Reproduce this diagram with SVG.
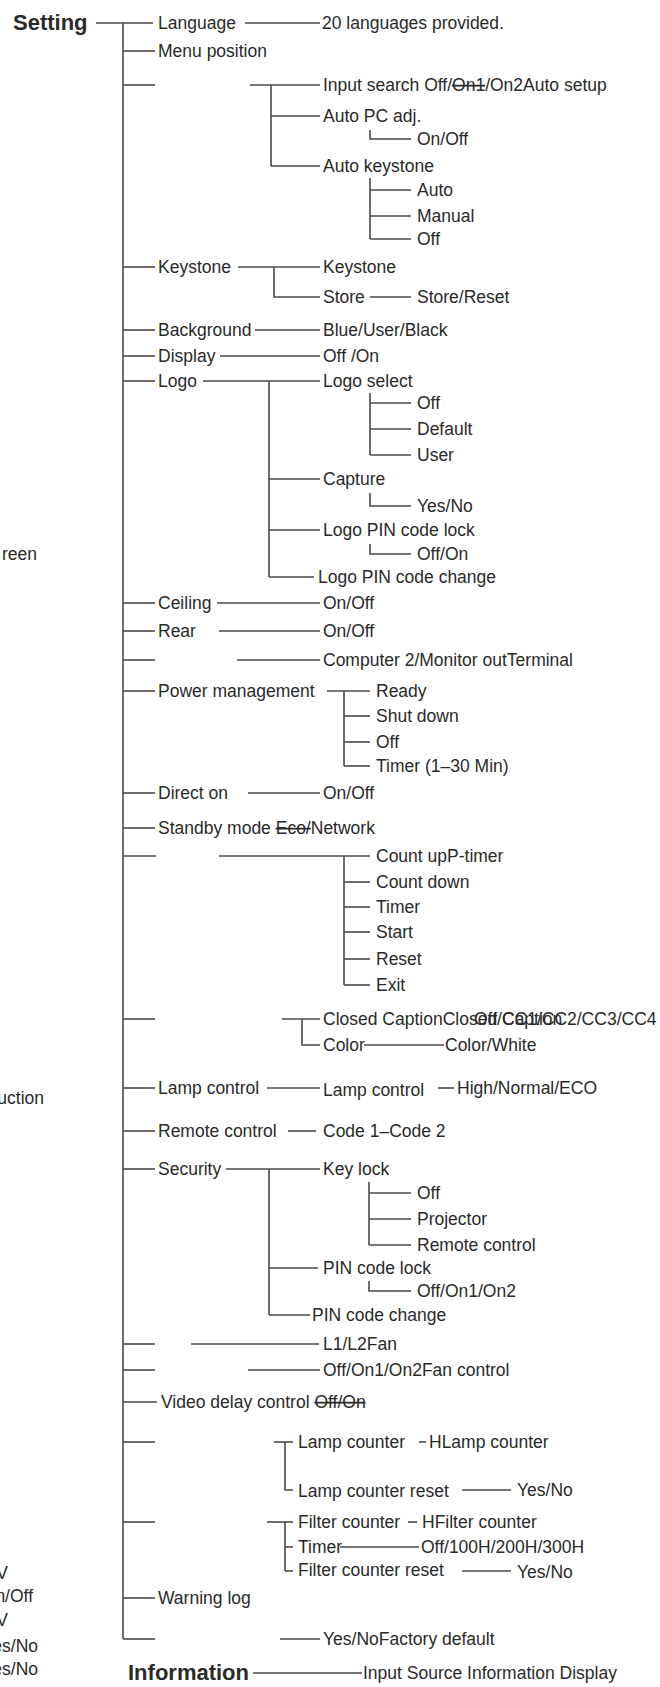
<svg xmlns="http://www.w3.org/2000/svg" width="660" height="1687" viewBox="0 0 660 1687">
<style>
text{font-family:"Liberation Sans",Arial,sans-serif;font-size:17.5px;fill:#2a2a2a}
.b{font-weight:bold;font-size:22px}
.e{text-anchor:end}
.s{text-decoration:line-through}
#connectors line,#connectors polyline{stroke:#4a4a4a;stroke-width:1.6;fill:none}
</style>
<rect width="660" height="1687" fill="#ffffff"/>
<g id="connectors">
<line x1="123" y1="23" x2="123" y2="1639"/>
<line x1="96" y1="23" x2="153" y2="23"/>
<line x1="123" y1="51" x2="155" y2="51"/>
<line x1="123" y1="85" x2="155" y2="85"/>
<line x1="123" y1="267" x2="155" y2="267"/>
<line x1="123" y1="330" x2="155" y2="330"/>
<line x1="123" y1="356" x2="155" y2="356"/>
<line x1="123" y1="381" x2="155" y2="381"/>
<line x1="123" y1="603" x2="155" y2="603"/>
<line x1="123" y1="631" x2="155" y2="631"/>
<line x1="123" y1="660" x2="155" y2="660"/>
<line x1="123" y1="691" x2="155" y2="691"/>
<line x1="123" y1="793" x2="155" y2="793"/>
<line x1="123" y1="828" x2="155" y2="828"/>
<line x1="123" y1="856" x2="156" y2="856"/>
<line x1="123" y1="1019" x2="155" y2="1019"/>
<line x1="123" y1="1088" x2="155" y2="1088"/>
<line x1="123" y1="1131" x2="155" y2="1131"/>
<line x1="123" y1="1169" x2="155" y2="1169"/>
<line x1="123" y1="1344" x2="155" y2="1344"/>
<line x1="123" y1="1370" x2="155" y2="1370"/>
<line x1="123" y1="1402" x2="157" y2="1402"/>
<line x1="123" y1="1442" x2="155" y2="1442"/>
<line x1="123" y1="1522" x2="155" y2="1522"/>
<line x1="123" y1="1598" x2="155" y2="1598"/>
<line x1="123" y1="1639" x2="155" y2="1639"/>
<line x1="245" y1="23" x2="320" y2="23"/>
<line x1="250" y1="85" x2="320" y2="85"/>
<line x1="271" y1="85" x2="271" y2="166"/>
<line x1="271" y1="116" x2="320" y2="116"/>
<line x1="271" y1="166" x2="320" y2="166"/>
<polyline points="370,130 370,139 411,139"/>
<line x1="370" y1="178" x2="370" y2="239"/>
<line x1="370" y1="190" x2="411" y2="190"/>
<line x1="370" y1="216" x2="411" y2="216"/>
<line x1="370" y1="239" x2="411" y2="239"/>
<line x1="238" y1="267" x2="320" y2="267"/>
<polyline points="274,267 274,297 320,297"/>
<line x1="370" y1="297" x2="411" y2="297"/>
<line x1="255" y1="330" x2="320" y2="330"/>
<line x1="220" y1="356" x2="320" y2="356"/>
<line x1="203" y1="381" x2="320" y2="381"/>
<line x1="269" y1="381" x2="269" y2="577"/>
<line x1="269" y1="479" x2="320" y2="479"/>
<line x1="269" y1="530" x2="320" y2="530"/>
<line x1="269" y1="577" x2="314" y2="577"/>
<line x1="370" y1="393" x2="370" y2="455"/>
<line x1="370" y1="403" x2="411" y2="403"/>
<line x1="370" y1="429" x2="411" y2="429"/>
<line x1="370" y1="455" x2="411" y2="455"/>
<polyline points="370,493 370,506 411,506"/>
<polyline points="370,544 370,554 411,554"/>
<line x1="217" y1="603" x2="320" y2="603"/>
<line x1="219" y1="631" x2="320" y2="631"/>
<line x1="237" y1="660" x2="320" y2="660"/>
<line x1="327" y1="691" x2="370" y2="691"/>
<line x1="344" y1="691" x2="344" y2="766"/>
<line x1="344" y1="716" x2="370" y2="716"/>
<line x1="344" y1="742" x2="370" y2="742"/>
<line x1="344" y1="766" x2="370" y2="766"/>
<line x1="248" y1="793" x2="320" y2="793"/>
<line x1="219" y1="856" x2="370" y2="856"/>
<line x1="344" y1="856" x2="344" y2="985"/>
<line x1="344" y1="882" x2="370" y2="882"/>
<line x1="344" y1="907" x2="370" y2="907"/>
<line x1="344" y1="932" x2="370" y2="932"/>
<line x1="344" y1="959" x2="370" y2="959"/>
<line x1="344" y1="985" x2="370" y2="985"/>
<line x1="282" y1="1019" x2="320" y2="1019"/>
<polyline points="302,1019 302,1045 320,1045"/>
<line x1="364" y1="1045" x2="444" y2="1045"/>
<line x1="267" y1="1088" x2="320" y2="1088"/>
<line x1="438" y1="1088" x2="454" y2="1088"/>
<line x1="288" y1="1131" x2="316" y2="1131"/>
<line x1="226" y1="1169" x2="320" y2="1169"/>
<line x1="269" y1="1169" x2="269" y2="1315"/>
<line x1="269" y1="1268" x2="318" y2="1268"/>
<line x1="269" y1="1315" x2="310" y2="1315"/>
<line x1="369" y1="1182" x2="369" y2="1245"/>
<line x1="369" y1="1193" x2="411" y2="1193"/>
<line x1="369" y1="1219" x2="411" y2="1219"/>
<line x1="369" y1="1245" x2="411" y2="1245"/>
<polyline points="369,1281 369,1291 411,1291"/>
<line x1="191" y1="1344" x2="319" y2="1344"/>
<line x1="248" y1="1370" x2="320" y2="1370"/>
<line x1="274" y1="1442" x2="293" y2="1442"/>
<polyline points="285,1442 285,1490 293,1490"/>
<line x1="419" y1="1442" x2="426" y2="1442"/>
<line x1="462" y1="1490" x2="511" y2="1490"/>
<line x1="267" y1="1522" x2="293" y2="1522"/>
<line x1="285" y1="1522" x2="285" y2="1571"/>
<line x1="285" y1="1547" x2="293" y2="1547"/>
<line x1="285" y1="1571" x2="293" y2="1571"/>
<line x1="408" y1="1522" x2="417" y2="1522"/>
<line x1="340" y1="1547" x2="419" y2="1547"/>
<line x1="462" y1="1571" x2="511" y2="1571"/>
<line x1="280" y1="1639" x2="320" y2="1639"/>
<line x1="253" y1="1673" x2="362" y2="1673"/>
</g>
<g id="setting"><text class="b" x="13" y="30">Setting</text></g>
<g id="language"><text x="158" y="29">Language</text></g>
<g id="language-val"><text x="322" y="29">20 languages provided.</text></g>
<g id="menu-position"><text x="158" y="57">Menu position</text></g>
<g id="input-search"><text x="323" y="91">Input search Off/<tspan class="s">On1</tspan>/On2Auto setup</text></g>
<g id="auto-pc"><text x="323" y="122">Auto PC adj.</text></g>
<g id="auto-pc-val"><text x="417" y="145">On/Off</text></g>
<g id="auto-keystone"><text x="323" y="172">Auto keystone</text></g>
<g id="ak-auto"><text x="417" y="196">Auto</text></g>
<g id="ak-manual"><text x="417" y="222">Manual</text></g>
<g id="ak-off"><text x="417" y="245">Off</text></g>
<g id="keystone"><text x="158" y="273">Keystone</text></g>
<g id="keystone-2"><text x="323" y="273">Keystone</text></g>
<g id="store"><text x="323" y="303">Store</text></g>
<g id="store-reset"><text x="417" y="303">Store/Reset</text></g>
<g id="background"><text x="158" y="336">Background</text></g>
<g id="background-val"><text x="323" y="336">Blue/User/Black</text></g>
<g id="display"><text x="158" y="362">Display</text></g>
<g id="display-val"><text x="323" y="362">Off /On</text></g>
<g id="logo"><text x="158" y="387">Logo</text></g>
<g id="logo-select"><text x="323" y="387">Logo select</text></g>
<g id="ls-off"><text x="417" y="409">Off</text></g>
<g id="ls-default"><text x="417" y="435">Default</text></g>
<g id="ls-user"><text x="417" y="461">User</text></g>
<g id="capture"><text x="323" y="485">Capture</text></g>
<g id="capture-val"><text x="417" y="512">Yes/No</text></g>
<g id="logo-pin-lock"><text x="323" y="536">Logo PIN code lock</text></g>
<g id="logo-pin-lock-val"><text x="417" y="560">Off/On</text></g>
<g id="logo-pin-change"><text x="318" y="583">Logo PIN code change</text></g>
<g id="ceiling"><text x="158" y="609">Ceiling</text></g>
<g id="ceiling-val"><text x="323" y="609">On/Off</text></g>
<g id="rear"><text x="158" y="637">Rear</text></g>
<g id="rear-val"><text x="323" y="637">On/Off</text></g>
<g id="terminal"><text x="323" y="666">Computer 2/Monitor outTerminal</text></g>
<g id="power"><text x="158" y="697">Power management</text></g>
<g id="pw-ready"><text x="376" y="697">Ready</text></g>
<g id="pw-shut"><text x="376" y="722">Shut down</text></g>
<g id="pw-off"><text x="376" y="748">Off</text></g>
<g id="pw-timer"><text x="376" y="772">Timer (1–30 Min)</text></g>
<g id="direct-on"><text x="158" y="799">Direct on</text></g>
<g id="direct-on-val"><text x="323" y="799">On/Off</text></g>
<g id="standby"><text x="158" y="834">Standby mode <tspan class="s">Eco/</tspan>Network</text></g>
<g id="pt-countup"><text x="376" y="862">Count upP-timer</text></g>
<g id="pt-countdown"><text x="376" y="888">Count down</text></g>
<g id="pt-timer"><text x="376" y="913">Timer</text></g>
<g id="pt-start"><text x="376" y="938">Start</text></g>
<g id="pt-reset"><text x="376" y="965">Reset</text></g>
<g id="pt-exit"><text x="376" y="991">Exit</text></g>
<g id="closed-caption"><text x="323" y="1025">Closed CaptionClosed Caption</text><text x="474" y="1025">Off/CC1/CC2/CC3/CC4</text></g>
<g id="cc-color"><text x="323" y="1051">Color</text></g>
<g id="cc-color-val"><text x="445" y="1051">Color/White</text></g>
<g id="lamp-control"><text x="158" y="1094">Lamp control</text></g>
<g id="lamp-control-2"><text x="323" y="1096">Lamp control</text></g>
<g id="lamp-control-val"><text x="457" y="1094">High/Normal/ECO</text></g>
<g id="remote"><text x="158" y="1137">Remote control</text></g>
<g id="remote-val"><text x="323" y="1137">Code 1–Code 2</text></g>
<g id="security"><text x="158" y="1175">Security</text></g>
<g id="key-lock"><text x="323" y="1175">Key lock</text></g>
<g id="kl-off"><text x="417" y="1199">Off</text></g>
<g id="kl-projector"><text x="417" y="1225">Projector</text></g>
<g id="kl-remote"><text x="417" y="1251">Remote control</text></g>
<g id="pin-lock"><text x="323" y="1274">PIN code lock</text></g>
<g id="pin-lock-val"><text x="417" y="1297">Off/On1/On2</text></g>
<g id="pin-change"><text x="312" y="1321">PIN code change</text></g>
<g id="fan"><text x="323" y="1350">L1/L2Fan</text></g>
<g id="fan-control"><text x="323" y="1376">Off/On1/On2Fan control</text></g>
<g id="video-delay"><text x="161" y="1408">Video delay control <tspan class="s">Off/On</tspan></text></g>
<g id="lamp-counter"><text x="298" y="1448">Lamp counter</text></g>
<g id="lamp-counter-val"><text x="429" y="1448">HLamp counter</text></g>
<g id="lamp-counter-reset"><text x="298" y="1497">Lamp counter reset</text></g>
<g id="lamp-counter-reset-val"><text x="517" y="1496">Yes/No</text></g>
<g id="filter-counter"><text x="298" y="1528">Filter counter</text></g>
<g id="filter-counter-val"><text x="422" y="1528">HFilter counter</text></g>
<g id="filter-timer"><text x="298" y="1553">Timer</text></g>
<g id="filter-timer-val"><text x="421" y="1553">Off/100H/200H/300H</text></g>
<g id="filter-reset"><text x="298" y="1576">Filter counter reset</text></g>
<g id="filter-reset-val"><text x="517" y="1578">Yes/No</text></g>
<g id="warning-log"><text x="158" y="1604">Warning log</text></g>
<g id="factory-default"><text x="323" y="1645">Yes/NoFactory default</text></g>
<g id="information"><text class="b" x="128" y="1680">Information</text></g>
<g id="information-val"><text x="363" y="1679">Input Source Information Display</text></g>
<g id="clipped-left">
<text class="e" x="37" y="560">reen</text>
<text class="e" x="44" y="1104">uction</text>
<text class="e" x="8" y="1579">V</text>
<text class="e" x="33" y="1602">n/Off</text>
<text class="e" x="8" y="1626">V</text>
<text class="e" x="38" y="1652">es/No</text>
<text class="e" x="38" y="1675">es/No</text>
</g>
</svg>
